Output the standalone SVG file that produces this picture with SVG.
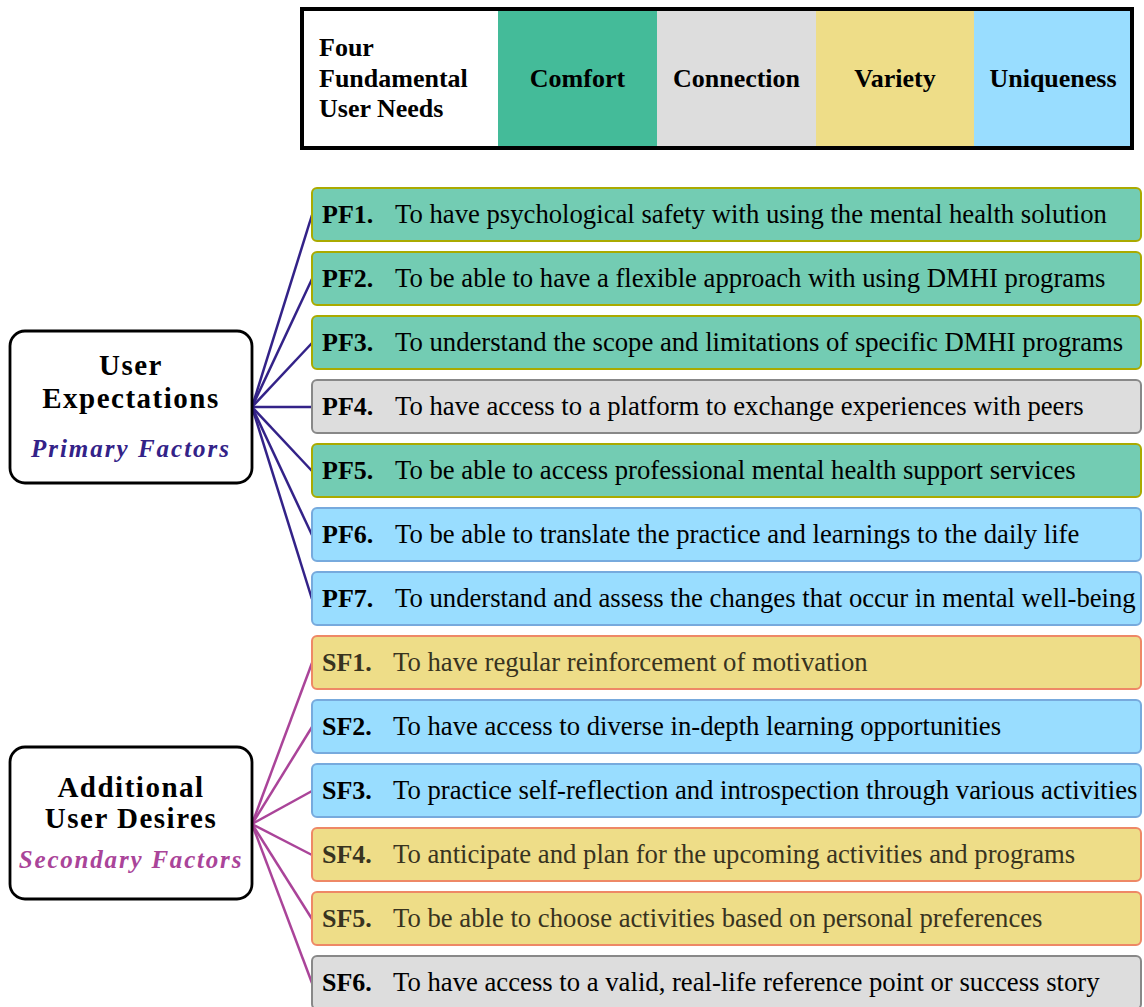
<svg xmlns="http://www.w3.org/2000/svg" width="1144" height="1007" viewBox="0 0 1144 1007">
<style>
.lg{font-family:"Liberation Serif","Times New Roman",serif;font-weight:bold;font-size:26px;fill:#000}
.item{stroke-width:2}
.comfort{fill:#73CCB3;stroke:#AAAA00}
.connection{fill:#DDDDDD;stroke:#888888}
.variety{fill:#EEDD88;stroke:#EE8866}
.unique{fill:#99DDFF;stroke:#77AADD}
.lab{font-family:"Liberation Serif","Times New Roman",serif;font-weight:bold;font-size:26px;fill:#000}
.txt{font-family:"Liberation Serif","Times New Roman",serif;font-size:26.7px;fill:#000}
.vt{fill:#38331F}
.hd{font-family:"Liberation Serif","Times New Roman",serif;font-weight:bold;font-size:29px;letter-spacing:1.5px;fill:#000;text-anchor:middle}
.sub{font-family:"Liberation Serif","Times New Roman",serif;font-weight:bold;font-style:italic;font-size:25px;text-anchor:middle}
.node{fill:#fff;stroke:#000;stroke-width:2.8}
.pl{stroke:#332288;stroke-width:2.5;fill:none}
.sl{stroke:#AA4499;stroke-width:2.5;fill:none}
</style>
<g id="legend">
<rect x="302" y="9" width="196" height="139" fill="#fff"/>
<rect x="498" y="9" width="159" height="139" fill="#44BB99"/>
<rect x="657" y="9" width="159" height="139" fill="#DDDDDD"/>
<rect x="816" y="9" width="158" height="139" fill="#EEDD88"/>
<rect x="974" y="9" width="158" height="139" fill="#99DDFF"/>
<rect x="302" y="9" width="830" height="139" fill="none" stroke="#000" stroke-width="4"/>
<text class="lg" x="319" y="56">Four</text>
<text class="lg" x="319" y="87">Fundamental</text>
<text class="lg" x="319" y="117">User Needs</text>
<text class="lg" x="577.5" y="87" text-anchor="middle">Comfort</text>
<text class="lg" x="736.5" y="87" text-anchor="middle">Connection</text>
<text class="lg" x="895" y="87" text-anchor="middle">Variety</text>
<text class="lg" x="1053" y="87" text-anchor="middle">Uniqueness</text>
</g>
<g id="connectors">
<line class="pl" x1="252" y1="407" x2="312" y2="215"/>
<line class="pl" x1="252" y1="407" x2="312" y2="279"/>
<line class="pl" x1="252" y1="407" x2="312" y2="343"/>
<line class="pl" x1="252" y1="407" x2="312" y2="407" stroke-width="3.5"/>
<line class="pl" x1="252" y1="407" x2="312" y2="471"/>
<line class="pl" x1="252" y1="407" x2="312" y2="535"/>
<line class="pl" x1="252" y1="407" x2="312" y2="599"/>
<line class="sl" x1="252" y1="824" x2="312" y2="663"/>
<line class="sl" x1="252" y1="824" x2="312" y2="727"/>
<line class="sl" x1="252" y1="824" x2="312" y2="791"/>
<line class="sl" x1="252" y1="824" x2="312" y2="855"/>
<line class="sl" x1="252" y1="824" x2="312" y2="919"/>
<line class="sl" x1="252" y1="824" x2="312" y2="983"/>
</g>
<g id="user-expectations">
<rect class="node" x="10" y="331" width="242" height="152" rx="15"/>
<text class="hd" x="131" y="375">User</text>
<text class="hd" x="131" y="408">Expectations</text>
<text class="sub" x="131" y="457" fill="#332288" letter-spacing="2">Primary Factors</text>
</g>
<g id="additional-user-desires">
<rect class="node" x="10" y="747" width="242" height="152" rx="15"/>
<text class="hd" x="131" y="797">Additional</text>
<text class="hd" x="131" y="828">User Desires</text>
<text class="sub" x="131" y="868" fill="#AA4499" letter-spacing="1.8">Secondary Factors</text>
</g>
<g id="PF1"><rect class="item comfort" x="312" y="188" width="829" height="53" rx="5"/><text class="lab" x="322" y="223">PF1.</text><text class="txt" x="395" y="223">To have psychological safety with using the mental health solution</text></g>
<g id="PF2"><rect class="item comfort" x="312" y="252" width="829" height="53" rx="5"/><text class="lab" x="322" y="287">PF2.</text><text class="txt" x="395" y="287">To be able to have a flexible approach with using DMHI programs</text></g>
<g id="PF3"><rect class="item comfort" x="312" y="316" width="829" height="53" rx="5"/><text class="lab" x="322" y="351">PF3.</text><text class="txt" x="395" y="351">To understand the scope and limitations of specific DMHI programs</text></g>
<g id="PF4"><rect class="item connection" x="312" y="380" width="829" height="53" rx="5"/><text class="lab" x="322" y="415">PF4.</text><text class="txt" x="395" y="415">To have access to a platform to exchange experiences with peers</text></g>
<g id="PF5"><rect class="item comfort" x="312" y="444" width="829" height="53" rx="5"/><text class="lab" x="322" y="479">PF5.</text><text class="txt" x="395" y="479">To be able to access professional mental health support services</text></g>
<g id="PF6"><rect class="item unique" x="312" y="508" width="829" height="53" rx="5"/><text class="lab" x="322" y="543">PF6.</text><text class="txt" x="395" y="543">To be able to translate the practice and learnings to the daily life</text></g>
<g id="PF7"><rect class="item unique" x="312" y="572" width="829" height="53" rx="5"/><text class="lab" x="322" y="607">PF7.</text><text class="txt" x="395" y="607">To understand and assess the changes that occur in mental well-being</text></g>
<g id="SF1"><rect class="item variety" x="312" y="636" width="829" height="53" rx="5"/><text class="lab vt" x="322" y="671">SF1.</text><text class="txt vt" x="393" y="671">To have regular reinforcement of motivation</text></g>
<g id="SF2"><rect class="item unique" x="312" y="700" width="829" height="53" rx="5"/><text class="lab" x="322" y="735">SF2.</text><text class="txt" x="393" y="735">To have access to diverse in-depth learning opportunities</text></g>
<g id="SF3"><rect class="item unique" x="312" y="764" width="829" height="53" rx="5"/><text class="lab" x="322" y="799">SF3.</text><text class="txt" x="393" y="799">To practice self-reflection and introspection through various activities</text></g>
<g id="SF4"><rect class="item variety" x="312" y="828" width="829" height="53" rx="5"/><text class="lab vt" x="322" y="863">SF4.</text><text class="txt vt" x="393" y="863">To anticipate and plan for the upcoming activities and programs</text></g>
<g id="SF5"><rect class="item variety" x="312" y="892" width="829" height="53" rx="5"/><text class="lab vt" x="322" y="927">SF5.</text><text class="txt vt" x="393" y="927">To be able to choose activities based on personal preferences</text></g>
<g id="SF6"><rect class="item connection" x="312" y="956" width="829" height="53" rx="5"/><text class="lab" x="322" y="991">SF6.</text><text class="txt" x="393" y="991">To have access to a valid, real-life reference point or success story</text></g>
</svg>
